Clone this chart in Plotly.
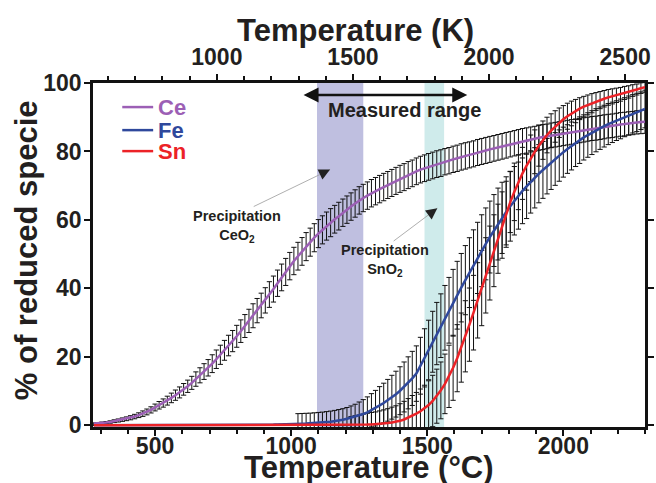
import plotly.graph_objects as go

# Temperature grid (°C) shared by the three series
temperature_c = list(range(275, 2301, 15))

# Ce reduction (%) and its uncertainty
ce_pct = [
    0.5, 0.55, 0.65, 0.8, 0.95, 1.2, 1.4, 1.65, 1.9, 2.2,
    2.55, 2.95, 3.4, 3.9, 4.5, 5.2, 5.85, 6.5, 7.2, 8.0,
    8.8, 9.6, 10.5, 11.4, 12.4, 13.5, 14.6, 15.7, 16.8, 18.0,
    19.3, 20.6, 21.9, 23.3, 24.6, 26.0, 27.5, 29.0, 30.5, 32.0,
    33.5, 35.0, 36.5, 38.2, 39.8, 41.5, 43.2, 44.8, 46.5, 48.0,
    49.4, 50.8, 52.2, 53.5, 54.8, 56.0, 57.1, 58.2, 59.2, 60.2,
    61.1, 62.1, 63.0, 63.9, 64.8, 65.7, 66.4, 67.1, 67.8, 68.4,
    69.0, 69.6, 70.2, 70.8, 71.4, 72.0, 72.5, 73.1, 73.6, 74.2,
    74.7, 75.1, 75.5, 75.9, 76.3, 76.6, 77.0, 77.3, 77.7, 78.0,
    78.4, 78.7, 79.0, 79.3, 79.7, 80.0, 80.3, 80.6, 80.9, 81.2,
    81.5, 81.8, 82.1, 82.4, 82.7, 83.0, 83.2, 83.5, 83.7, 84.0,
    84.2, 84.4, 84.7, 84.9, 85.1, 85.3, 85.5, 85.7, 85.9, 86.1,
    86.3, 86.5, 86.7, 86.8, 87.0, 87.2, 87.4, 87.5, 87.7, 87.9,
    88.0, 88.2, 88.3, 88.5, 88.6, 88.7,
]
ce_err = [
    0.2, 0.25, 0.3, 0.3, 0.35, 0.4, 0.45, 0.5, 0.55, 0.6,
    0.65, 0.7, 0.8, 0.85, 0.9, 1.0, 1.1, 1.2, 1.3, 1.4,
    1.5, 1.6, 1.7, 1.8, 1.9, 2.1, 2.2, 2.3, 2.4, 2.6,
    2.7, 2.8, 2.9, 3.0, 3.1, 3.2, 3.3, 3.35, 3.4, 3.5,
    3.55, 3.6, 3.7, 3.75, 3.8, 3.85, 3.9, 3.95, 4.0, 4.0,
    4.05, 4.05, 4.1, 4.1, 4.1, 4.1, 4.1, 4.1, 4.1, 4.05,
    4.05, 4.0, 4.0, 4.0, 4.0, 4.0, 4.0, 4.0, 4.0, 4.0,
    4.0, 4.0, 3.95, 3.95, 3.95, 3.95, 3.95, 3.95, 3.9, 3.9,
    3.9, 3.9, 3.9, 3.9, 3.9, 3.9, 3.85, 3.85, 3.85, 3.85,
    3.85, 3.85, 3.8, 3.8, 3.8, 3.8, 3.8, 3.8, 3.75, 3.75,
    3.75, 3.75, 3.7, 3.7, 3.7, 3.7, 3.7, 3.65, 3.65, 3.65,
    3.65, 3.6, 3.6, 3.6, 3.6, 3.6, 3.6, 3.6, 3.55, 3.55,
    3.55, 3.5, 3.5, 3.5, 3.5, 3.5, 3.45, 3.45, 3.45, 3.45,
    3.45, 3.4, 3.4, 3.4, 3.4, 3.4,
]

# Fe reduction (%) and its uncertainty
fe_pct = [
    0, 0, 0, 0, 0, 0, 0, 0, 0, 0,
    0, 0, 0, 0, 0, 0, 0, 0, 0, 0,
    0, 0, 0, 0, 0, 0, 0, 0, 0, 0,
    0, 0, 0, 0, 0, 0.05, 0.05, 0.05, 0.1, 0.1,
    0.1, 0.15, 0.15, 0.2, 0.2, 0.25, 0.25, 0.3, 0.3, 0.35,
    0.4, 0.45, 0.5, 0.55, 0.65, 0.75, 0.85, 0.95, 1.05, 1.2,
    1.4, 1.6, 1.9, 2.2, 2.5, 2.9, 3.3, 3.8, 4.4, 5.0,
    5.8, 6.5, 7.3, 8.2, 9.1, 10.1, 11.2, 12.4, 13.7, 15.1,
    17.4, 19.7, 22.0, 24.4, 26.8, 29.1, 31.4, 33.6, 35.8, 38.0,
    40.2, 42.4, 44.6, 46.8, 48.9, 51.0, 53.0, 55.0, 56.9, 58.8,
    60.6, 62.3, 64.0, 65.6, 67.1, 68.5, 69.8, 71.1, 72.3, 73.5,
    74.6, 75.7, 76.8, 77.8, 78.8, 79.8, 80.7, 81.6, 82.5, 83.3,
    84.1, 84.8, 85.5, 86.2, 86.8, 87.4, 88.0, 88.5, 89.0, 89.5,
    90.0, 90.5, 91.0, 91.4, 91.9, 92.4,
]
fe_err = [
    0, 0, 0, 0, 0, 0, 0, 0, 0, 0,
    0, 0, 0, 0, 0, 0, 0, 0, 0, 0,
    0, 0, 0, 0, 0, 0, 0, 0, 0, 0,
    0, 0, 0, 0, 0, 0, 0, 0, 0, 0,
    0, 0, 0, 0, 0, 0, 0, 0, 0, 0,
    3.0, 3.0, 3.0, 3.0, 3.0, 3.0, 3.0, 3.05, 3.1, 3.15,
    3.2, 3.25, 3.3, 3.45, 3.65, 3.9, 4.2, 4.5, 4.85, 5.2,
    5.5, 5.8, 6.1, 6.4, 6.7, 7.0, 7.3, 7.6, 7.9, 8.1,
    8.3, 8.5, 8.7, 8.9, 9.1, 9.3, 9.45, 9.6, 9.75, 9.9,
    10.0, 10.1, 10.2, 10.3, 10.4, 10.5, 10.5, 10.5, 10.5, 10.5,
    10.4, 10.3, 10.2, 10.0, 9.8, 9.6, 9.4, 9.1, 8.8, 8.5,
    8.3, 8.1, 7.9, 7.7, 7.5, 7.3, 7.1, 7.0, 6.9, 6.8,
    6.6, 6.5, 6.4, 6.3, 6.2, 6.1, 6.0, 5.9, 5.8, 5.8,
    5.7, 5.7, 5.6, 5.6, 5.5, 5.5,
]

# Sn reduction (%) and its uncertainty
sn_pct = [
    0, 0, 0, 0, 0, 0, 0, 0, 0, 0,
    0, 0, 0, 0, 0, 0, 0, 0, 0, 0,
    0, 0, 0, 0, 0, 0, 0, 0, 0, 0,
    0, 0, 0, 0, 0, 0, 0, 0, 0, 0,
    0, 0, 0, 0, 0, 0, 0, 0, 0, 0,
    0, 0, 0, 0, 0, 0, 0, 0, 0, 0,
    0, 0, 0.05, 0.05, 0.1, 0.1, 0.15, 0.2, 0.25, 0.3,
    0.4, 0.5, 0.65, 0.8, 1.0, 1.3, 1.7, 2.2, 2.8, 3.4,
    4.1, 4.9, 5.9, 7.1, 8.5, 10.2, 12.1, 14.3, 16.8, 19.6,
    22.7, 26.0, 29.4, 32.9, 36.5, 40.1, 43.8, 47.4, 51.0, 54.5,
    58.5, 62.0, 65.2, 68.2, 71.0, 73.6, 75.9, 78.0, 79.9, 81.7,
    83.3, 84.8, 86.1, 87.3, 88.4, 89.4, 90.3, 91.1, 91.8, 92.5,
    93.1, 93.6, 94.1, 94.6, 95.0, 95.4, 95.8, 96.1, 96.4, 96.7,
    97.1, 97.4, 97.8, 98.1, 98.5, 98.8,
]
sn_err = [
    0, 0, 0, 0, 0, 0, 0, 0, 0, 0,
    0, 0, 0, 0, 0, 0, 0, 0, 0, 0,
    0, 0, 0, 0, 0, 0, 0, 0, 0, 0,
    0, 0, 0, 0, 0, 0, 0, 0, 0, 0,
    0, 0, 0, 0, 0, 0, 0, 0, 0, 0,
    0, 0, 0, 0, 0, 0, 0, 0, 0, 0,
    0, 0, 0, 2.5, 2.7, 2.9, 3.1, 3.3, 3.5, 3.6,
    3.8, 4.0, 4.2, 4.5, 4.7, 5.0, 5.3, 5.6, 5.9, 6.2,
    6.5, 6.8, 7.1, 7.5, 7.9, 8.3, 8.7, 9.1, 9.5, 9.8,
    10.1, 10.4, 10.7, 10.9, 11.0, 11.0, 11.0, 10.8, 10.5, 10.1,
    9.7, 9.3, 8.9, 8.4, 8.0, 7.6, 7.2, 6.8, 6.4, 6.0,
    5.6, 5.2, 4.9, 4.6, 4.3, 4.0, 3.8, 3.6, 3.4, 3.2,
    3.0, 2.9, 2.8, 2.6, 2.5, 2.4, 2.3, 2.2, 2.1, 2.0,
    1.9, 1.8, 1.7, 1.6, 1.55, 1.5,
]

species = ["Ce", "Fe", "Sn"]
colors = {"Ce": "#9c5fb5", "Fe": "#2f489c", "Sn": "#ec2227"}
values = {"Ce": ce_pct, "Fe": fe_pct, "Sn": sn_pct}
errors = {"Ce": ce_err, "Fe": fe_err, "Sn": sn_err}

# Shaded temperature windows (°C)
ceo2_window = (1095, 1265)
sno2_window = (1490, 1562)
measured_range = (1040, 1647)

x_range_c = [272, 2300]
kelvin_offset = 273

FONT = "Liberation Sans, Arial, sans-serif"
TEXT = "#231f20"

fig = go.Figure()

# Error bars first, lines on top
for s in species:
    fig.add_trace(go.Scatter(
        x=temperature_c, y=values[s], mode="markers",
        marker=dict(size=0.1, color="rgba(0,0,0,0)"),
        error_y=dict(type="data", array=errors[s], visible=True,
                     color="#111111", thickness=1, width=2.6),
        showlegend=False, hoverinfo="skip",
    ))
for s in species:
    fig.add_trace(go.Scatter(
        x=temperature_c, y=values[s], mode="lines",
        line=dict(color=colors[s], width=2.5),
        name=s, showlegend=False, hoverinfo="skip",
    ))

# Dummy trace to bring the Kelvin axis to life
fig.add_trace(go.Scatter(
    x=[x_range_c[0] + kelvin_offset, x_range_c[1] + kelvin_offset],
    y=[-50, -50], xaxis="x2", mode="lines",
    line=dict(width=0), showlegend=False, hoverinfo="skip",
))

# Shaded windows
for (x0, x1), col in [(ceo2_window, "#bfbfe0"), (sno2_window, "#cfebeb")]:
    fig.add_shape(type="rect", xref="x", yref="paper", x0=x0, x1=x1,
                  y0=0, y1=1, fillcolor=col, line=dict(width=0), layer="below")

# Hand-placed legend
legend_rows = [0.930, 0.863, 0.802]
for s, yy in zip(species, legend_rows):
    fig.add_shape(type="line", xref="paper", yref="paper",
                  x0=0.053, x1=0.109, y0=yy, y1=yy,
                  line=dict(color=colors[s], width=2.5))
    fig.add_annotation(xref="paper", yref="paper", x=0.114, y=yy,
                       text=f"<b>{s}</b>", showarrow=False, xanchor="left",
                       yanchor="middle",
                       font=dict(family=FONT, size=22, color=colors[s]))

# Measured range double arrow
fig.add_annotation(x=measured_range[1], y=96.5, ax=measured_range[0], ay=96.5,
                   xref="x", yref="y", axref="x", ayref="y", text="",
                   showarrow=True, arrowhead=2, arrowside="end+start",
                   arrowsize=1.2, arrowwidth=2.5, arrowcolor="#111111")
fig.add_annotation(x=1417, y=92.2, xref="x", yref="y",
                   text="<b>Measured range</b>", showarrow=False,
                   font=dict(family=FONT, size=20, color=TEXT))

# Precipitation labels with pointers
pointers = [
    dict(label="Precipitation<br>CeO<sub>2</sub>", tx=801, ty=58.1,
         x0=857, y0=63.7, x1=1143, y1=74.7),
    dict(label="Precipitation<br>SnO<sub>2</sub>", tx=1346, ty=48.0,
         x0=1371, y0=53.5, x1=1537, y1=63.4),
]
for p in pointers:
    fig.add_annotation(x=p["tx"], y=p["ty"], xref="x", yref="y",
                       text=f"<b>{p['label']}</b>", showarrow=False,
                       font=dict(family=FONT, size=14.5, color=TEXT))
    fig.add_annotation(x=p["x1"], y=p["y1"], ax=p["x0"], ay=p["y0"],
                       xref="x", yref="y", axref="x", ayref="y", text="",
                       showarrow=True, arrowhead=0, arrowwidth=0.8,
                       arrowcolor="#9a9a9a")
    fig.add_annotation(x=p["x1"], y=p["y1"],
                       ax=p["x1"] - (p["x1"] - p["x0"]) * 0.12,
                       ay=p["y1"] - (p["y1"] - p["y0"]) * 0.12,
                       xref="x", yref="y", axref="x", ayref="y", text="",
                       showarrow=True, arrowhead=2, arrowsize=1.6,
                       arrowwidth=1.4, arrowcolor="#222222")

# Axis titles
title_font = dict(family=FONT, size=31, color=TEXT)
fig.add_annotation(xref="paper", yref="paper", x=0.5, y=-0.119,
                   text="<b>Temperature (°C)</b>", showarrow=False,
                   xanchor="center", yanchor="middle", font=title_font)
fig.add_annotation(xref="paper", yref="paper", x=0.4755, y=1.154,
                   text="<b>Temperature (K)</b>", showarrow=False,
                   xanchor="center", yanchor="middle", font=title_font)
fig.add_annotation(xref="paper", yref="paper", x=-0.121, y=0.5145,
                   text="<b>% of reduced specie</b>", showarrow=False,
                   textangle=-90, xanchor="center", yanchor="middle",
                   font=title_font)

tickfont = dict(family=FONT, size=23, color=TEXT, weight="bold")
minor_ticks = dict(dtick=100, ticks="outside", ticklen=4, tickwidth=1.5,
                   tickcolor="#111111")

fig.update_layout(
    width=656, height=483,
    margin=dict(l=93, r=11, t=83, b=56),
    paper_bgcolor="white", plot_bgcolor="white",
    showlegend=False,
    xaxis=dict(
        range=x_range_c, showline=True, linewidth=2.5, linecolor="#111111",
        ticks="outside", ticklen=6, tickwidth=2, tickcolor="#111111",
        tick0=0, dtick=500, minor=minor_ticks, ticklabelstandoff=-9,
        showgrid=False, zeroline=False, tickfont=tickfont, automargin=False,
    ),
    xaxis2=dict(
        range=[x_range_c[0] + kelvin_offset, x_range_c[1] + kelvin_offset],
        overlaying="x", side="top", anchor="y",
        showline=True, linewidth=2.5, linecolor="#111111",
        ticks="outside", ticklen=6, tickwidth=2, tickcolor="#111111",
        tick0=0, dtick=500, minor=minor_ticks,
        showgrid=False, zeroline=False, tickfont=tickfont, automargin=False,
    ),
    yaxis=dict(
        range=[-0.5, 100], showline=True, linewidth=2.5, linecolor="#111111",
        mirror="ticks", ticks="outside", ticklen=6, tickwidth=2,
        tickcolor="#111111", tick0=0, dtick=20, ticklabelstandoff=-2,
        showgrid=False, zeroline=False, tickfont=tickfont, automargin=False,
    ),
)

fig.write_html("out.html")
